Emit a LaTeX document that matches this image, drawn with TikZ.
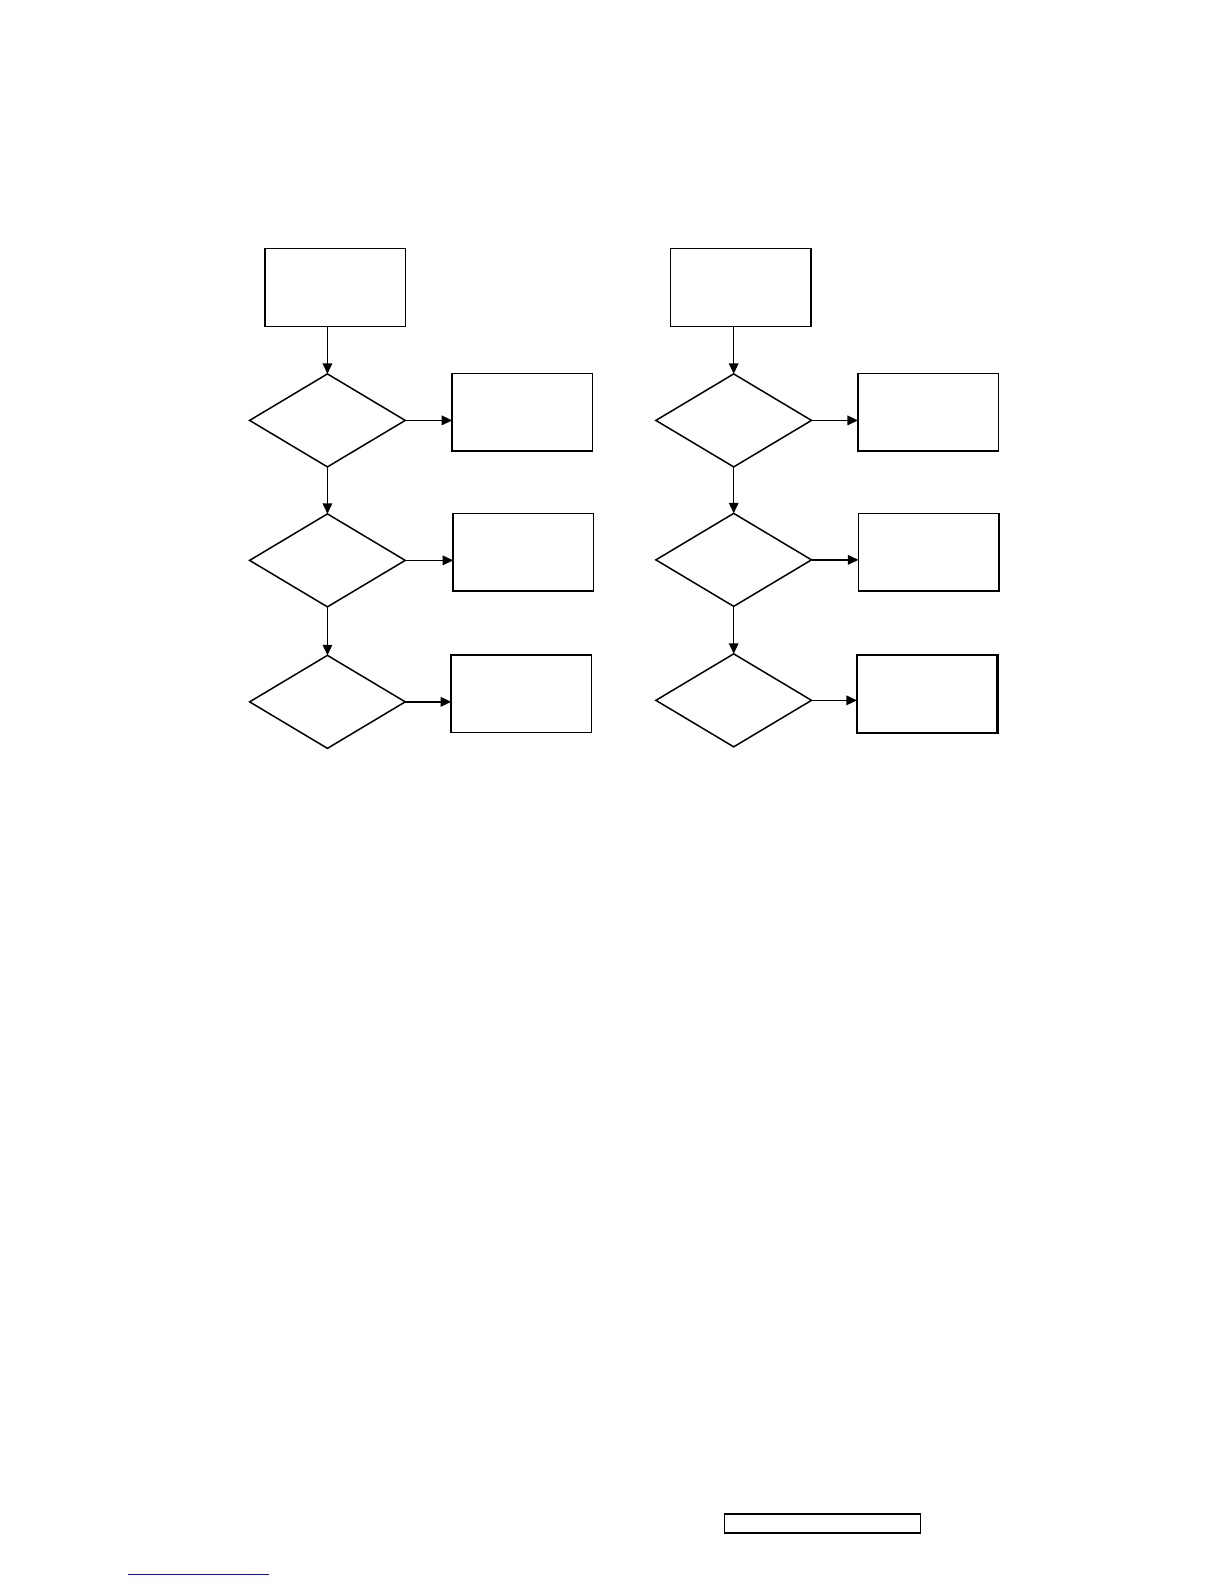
\documentclass[tikz,border=0pt]{standalone}
\usetikzlibrary{shapes.geometric,arrows.meta}
\begin{document}
\begin{tikzpicture}[x=1.0106bp,y=-1.0106bp,
  boxnode/.style={draw=black,line width=1.5bp,minimum width=140.5bp,minimum height=77.8bp,inner sep=0pt,outer sep=0pt},
  decnode/.style={draw=black,line width=1.5bp,diamond,aspect=1.674,minimum width=155.6bp,minimum height=93bp,inner sep=0pt,outer sep=0pt},
  flow/.style={draw=black,line width=1.5bp,-{Triangle[length=10.5bp,width=9.5bp]}},
  footbox/.style={draw=black,line width=1.3bp,minimum width=196bp,minimum height=19.2bp,inner sep=0pt}]
\useasboundingbox (0,0) rectangle (1211.2,1567.4);
\fill[white] (0,0) rectangle (1211.2,1567.4);
% left column
\node[boxnode] (la) at (331.5,284.5) {};
\node[decnode] (ld1) at (324,416) {};
\node[boxnode] (lb1) at (517,408) {};
\node[decnode] (ld2) at (324,554.5) {};
\node[boxnode] (lb2) at (518,546.5) {};
\node[decnode] (ld3) at (324,694.5) {};
\node[boxnode] (lb3) at (516,686.5) {};
\draw[flow] (la.south -| ld1.north) -- (ld1.north);
\draw[flow] (ld1.south) -- (ld2.north);
\draw[flow] (ld2.south) -- (ld3.north);
\draw[flow] (ld1.east) -- (ld1.east -| lb1.west);
\draw[flow] (ld2.east) -- (ld2.east -| lb2.west);
\draw[flow] (ld3.east) -- (ld3.east -| lb3.west);
% right column
\node[boxnode] (ra) at (733,284.5) {};
\node[decnode] (rd1) at (726,416) {};
\node[boxnode] (rb1) at (918.5,408) {};
\node[decnode] (rd2) at (726,554) {};
\node[boxnode] (rb2) at (919,546.5) {};
\node[decnode] (rd3) at (726,693) {};
\node[boxnode,line width=2.2bp] (rb3) at (917.5,686.5) {};
\draw[flow] (ra.south -| rd1.north) -- (rd1.north);
\draw[flow] (rd1.south) -- (rd2.north);
\draw[flow] (rd2.south) -- (rd3.north);
\draw[flow] (rd1.east) -- (rd1.east -| rb1.west);
\draw[flow] (rd2.east) -- (rd2.east -| rb2.west);
\draw[flow] (rd3.east) -- (rd3.east -| rb3.west);
% footer
\node[footbox] (foot) at (814,1507.5) {};
\coordinate (ulA) at (127,1558);
\coordinate (ulB) at (266,1558);
\draw[color={rgb,255:red,20;green,20;blue,140},line width=1.6bp] (ulA) -- (ulB);
\end{tikzpicture}
\end{document}
